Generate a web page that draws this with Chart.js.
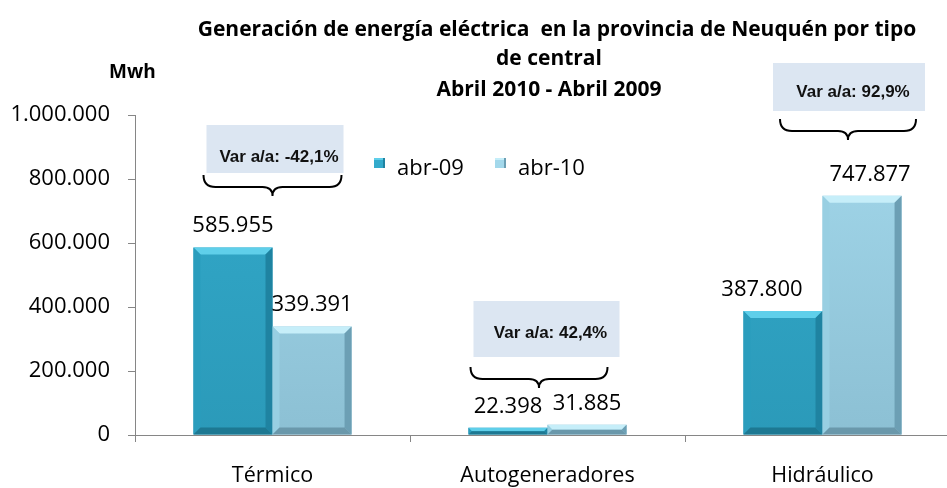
<!DOCTYPE html>
<html><head><meta charset="utf-8">
<script src="https://cdn.jsdelivr.net/npm/chart.js@4.4.0/dist/chart.umd.min.js"></script>
<style>
html,body{margin:0;padding:0;background:#fff;overflow:hidden;}
#wrap{width:960px;height:488px;position:relative;}
</style></head><body>
<div id="wrap"><canvas id="c" width="960" height="488"></canvas></div>
<script>
// ---- data ----
const categories = ['Térmico', 'Autogeneradores', 'Hidráulico'];
const seriesLabels = ['abr-09', 'abr-10'];
const abr09 = [585955, 22398, 387800];
const abr10 = [339391, 31885, 747877];
const yTicks = [0, 200000, 400000, 600000, 800000, 1000000];
const variations = ['Var a/a: -42,1%', 'Var a/a: 42,4%', 'Var a/a: 92,9%'];
const titleLines = ['Generación de energía eléctrica  en la provincia de Neuquén por tipo', 'de central'];
const subtitle = 'Abril 2010 - Abril 2009';
const yUnit = 'Mwh';

const fmt = n => String(n).replace(/\B(?=(\d{3})+(?!\d))/g, '.');
const FONT = "'Open Sans', 'Noto Sans', sans-serif";

const palette = [
  {face: ['#33aacb', '#2b9ab9'], top: '#5fcfea', left: '#2a9dbd', right: '#1f83a1', bottom: '#1d7892'},
  {face: ['#a3d8eb', '#8cc0d4'], top: '#c6eef9', left: '#98cfe2', right: '#6c9fb4', bottom: '#6a98ab'}
];

function faceGradient(ctx, i) {
  const chart = ctx.chart;
  const area = chart.chartArea;
  if (!area) return palette[i].face[0];
  const g = chart.ctx.createLinearGradient(0, area.top, 0, area.bottom);
  g.addColorStop(0, palette[i].face[0]);
  g.addColorStop(1, palette[i].face[1]);
  return g;
}

const bevelPlugin = {
  id: 'bevel',
  afterDatasetsDraw(chart) {
    const c = chart.ctx;
    chart.data.datasets.forEach((ds, di) => {
      const meta = chart.getDatasetMeta(di);
      const p = palette[di];
      meta.data.forEach(el => {
        const {x, y, base, width} = el.getProps(['x', 'y', 'base', 'width'], true);
        const l = x - width / 2, r = x + width / 2, t = y, b = base;
        const bv = Math.min(7, (b - t) / 2);
        const poly = (pts, col) => {
          c.beginPath();
          c.moveTo(pts[0][0], pts[0][1]);
          for (let k = 1; k < pts.length; k++) c.lineTo(pts[k][0], pts[k][1]);
          c.closePath();
          c.fillStyle = col;
          c.fill();
        };
        c.save();
        poly([[l, t], [r, t], [r - bv, t + bv], [l + bv, t + bv]], p.top);
        poly([[l, t], [l + bv, t + bv], [l + bv, b - bv], [l, b]], p.left);
        poly([[r, t], [r - bv, t + bv], [r - bv, b - bv], [r, b]], p.right);
        poly([[l, b], [l + bv, b - bv], [r - bv, b - bv], [r, b]], p.bottom);
        c.restore();
      });
    });
  }
};

const labelPlugin = {
  id: 'valueLabels',
  afterDatasetsDraw(chart, args, opts) {
    const c = chart.ctx;
    c.save();
    c.font = '22px ' + FONT;
    c.fillStyle = '#000';
    c.textAlign = 'center';
    c.textBaseline = 'alphabetic';
    chart.data.datasets.forEach((ds, di) => {
      const meta = chart.getDatasetMeta(di);
      meta.data.forEach((el, i) => {
        const dx = (opts.dx[di] && opts.dx[di][i]) || 0;
        c.fillText(fmt(ds.data[i]), el.x + dx, el.y - 15);
      });
    });
    c.restore();
  }
};

const decorPlugin = {
  id: 'decor',
  afterDraw(chart, args, opts) {
    const c = chart.ctx;
    const xs = chart.scales.x, ys = chart.scales.y;
    c.save();
    // titles
    c.fillStyle = '#000';
    c.textAlign = 'center';
    c.textBaseline = 'alphabetic';
    c.font = 'bold 21px ' + FONT;
    c.fillText(titleLines[0], opts.titleX, 36);
    c.fillText(titleLines[1], opts.subX, 65);
    c.fillText(subtitle, opts.subX, 96);
    c.textAlign = 'left';
    c.textBaseline = 'middle';
    c.font = 'bold 19px ' + FONT;
    c.fillText(yUnit, 109, 73);

    // legend
    c.font = '22px ' + FONT;
    c.textBaseline = 'alphabetic';
    opts.legend.forEach((lg, i) => {
      const p = palette[i];
      c.fillStyle = p.face[0];
      c.fillRect(lg.x, lg.y, 11, 10);
      c.fillStyle = p.top;
      c.fillRect(lg.x, lg.y, 11, 2);
      c.fillStyle = p.right;
      c.fillRect(lg.x + 9, lg.y, 2, 10);
      c.fillStyle = '#000';
      c.fillText(seriesLabels[i], lg.x + 23, lg.y + 17);
    });

    // annotations
    opts.annotations.forEach((a, i) => {
      const cx = xs.getPixelForValue(i);
      const top = ys.getPixelForValue(a.boxTop);
      const bx = cx + a.boxDx - a.boxW / 2;
      c.fillStyle = '#dce6f2';
      c.fillRect(bx, top, a.boxW, a.boxH);
      c.fillStyle = '#111';
      c.font = 'bold 17px "Liberation Sans", Arial, sans-serif';
      c.textAlign = 'center';
      c.textBaseline = 'middle';
      c.fillText(variations[i], cx + a.boxDx + 4, top + a.textDy);
      // brace
      const x0 = cx + a.braceDx - a.braceW / 2, x1 = cx + a.braceDx + a.braceW / 2;
      const xm = (x0 + x1) / 2;
      const yt = top + a.braceDy, ym = yt + 12, yp = yt + 21;
      c.strokeStyle = '#000';
      c.lineWidth = 2;
      c.beginPath();
      c.moveTo(x0, yt);
      c.quadraticCurveTo(x0, ym, x0 + 12, ym);
      c.lineTo(xm - 10, ym);
      c.quadraticCurveTo(xm, ym, xm, yp);
      c.quadraticCurveTo(xm, ym, xm + 10, ym);
      c.lineTo(x1 - 12, ym);
      c.quadraticCurveTo(x1, ym, x1, yt);
      c.stroke();
    });
    c.restore();
  }
};

new Chart(document.getElementById('c'), {
  type: 'bar',
  data: {
    labels: categories,
    datasets: [
      {label: seriesLabels[0], data: abr09, backgroundColor: ctx => faceGradient(ctx, 0), borderWidth: 0},
      {label: seriesLabels[1], data: abr10, backgroundColor: ctx => faceGradient(ctx, 1), borderWidth: 0}
    ]
  },
  plugins: [bevelPlugin, labelPlugin, decorPlugin],
  options: {
    responsive: false,
    animation: false,
    devicePixelRatio: 1,
    layout: {padding: {top: 115, left: 0, right: 0, bottom: 0}},
    datasets: {bar: {barPercentage: 1, categoryPercentage: 0.575}},
    plugins: {
      legend: {display: false},
      title: {display: false},
      tooltip: {enabled: false},
      valueLabels: {dx: [[0, 0, -21], [0, 0, 8]]},
      decor: {
        titleX: 557,
        subX: 549,
        legend: [{x: 374, y: 158}, {x: 495, y: 158}],
        annotations: [
          {boxTop: 968750, boxDx: 2.5, boxW: 137, boxH: 48, textDy: 32, braceDx: 0, braceW: 138, braceDy: 50},
          {boxTop: 418750, boxDx: -1, boxW: 146, boxH: 56, textDy: 32, braceDx: -8.5, braceW: 137, braceDy: 66},
          {boxTop: 1162500, boxDx: 26.5, boxW: 152, boxH: 48, textDy: 29, braceDx: 25.5, braceW: 136, braceDy: 56}
        ]
      }
    },
    scales: {
      x: {
        grid: {display: true, drawOnChartArea: false, drawTicks: true, tickLength: 7, color: '#868686', offset: true},
        border: {color: '#868686', width: 1},
        ticks: {font: {family: FONT, size: 21.5}, color: '#000', padding: 21},
        afterFit: s => { s.height = 53; }
      },
      y: {
        min: 0, max: 1000000,
        afterBuildTicks: s => { s.ticks = yTicks.map(v => ({value: v})); },
        grid: {display: true, drawOnChartArea: false, drawTicks: true, tickLength: 7, color: '#868686'},
        border: {color: '#868686', width: 1},
        ticks: {font: {family: FONT, size: 22}, color: '#000', padding: 18, callback: v => fmt(v)},
        afterFit: s => { s.width = 135; }
      }
    }
  }
});
</script>
</body></html>
